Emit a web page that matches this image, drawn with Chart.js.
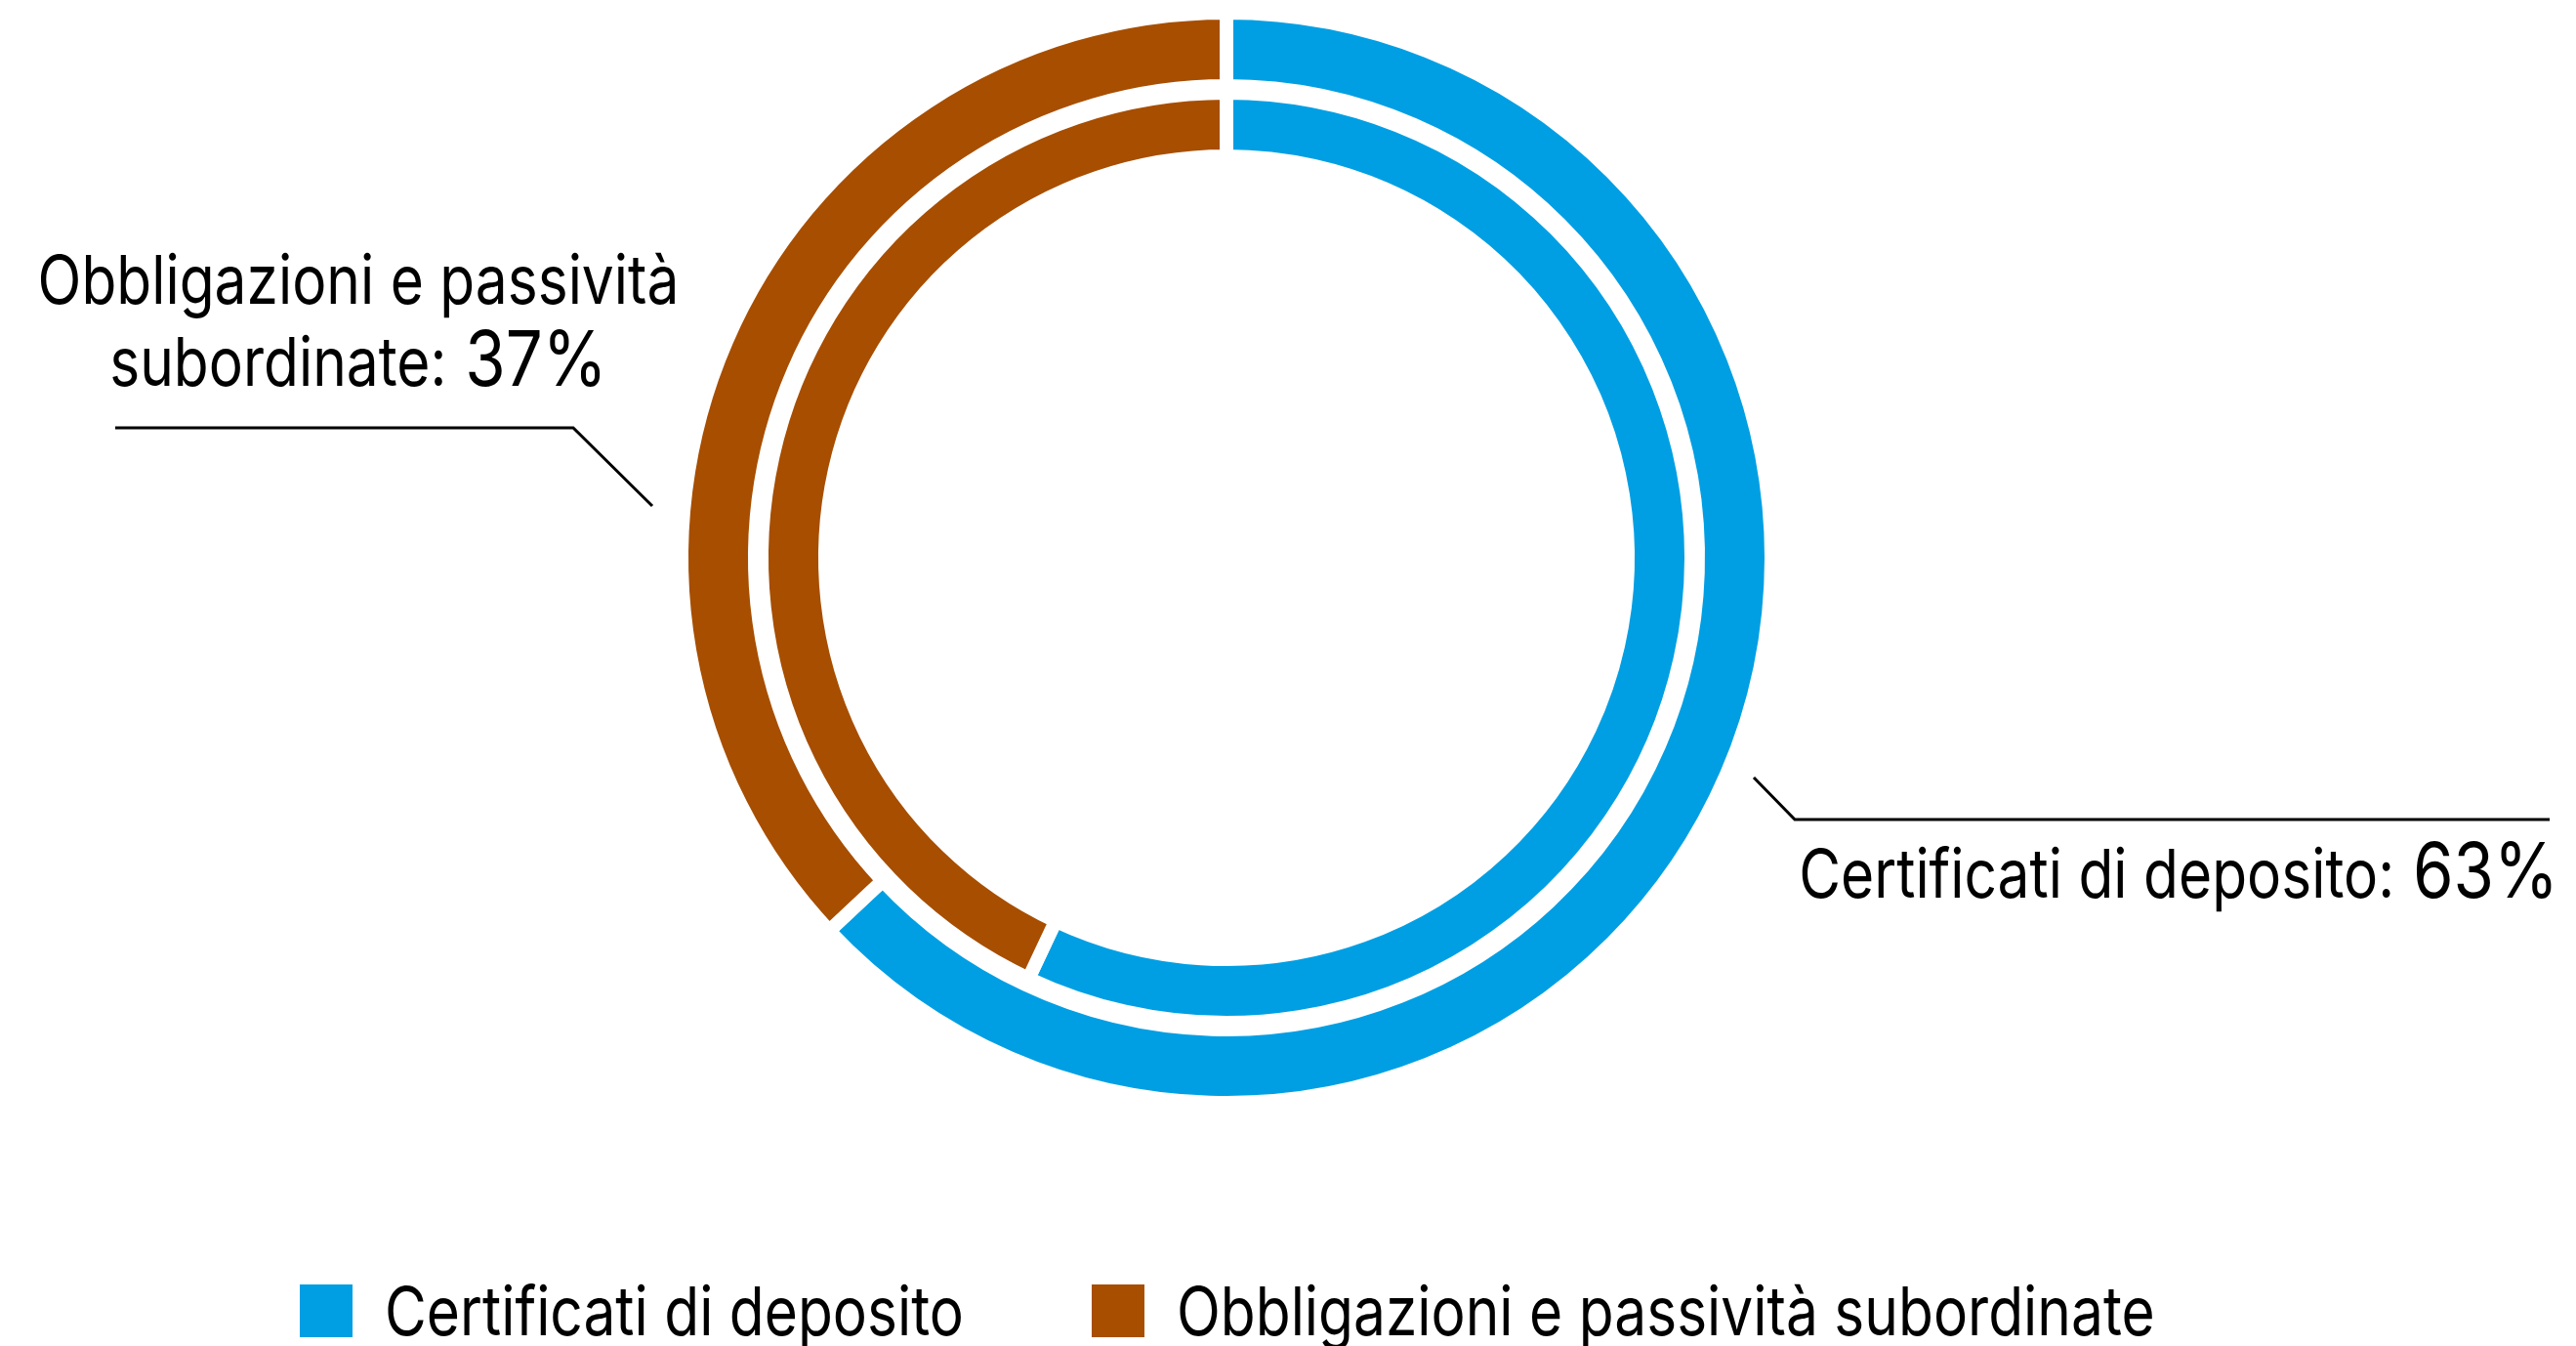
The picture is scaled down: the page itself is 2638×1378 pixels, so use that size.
<!DOCTYPE html>
<html>
<head>
<meta charset="utf-8">
<title>Raccolta</title>
<script src="https://cdn.jsdelivr.net/npm/chart.js@4.4.1/dist/chart.umd.min.js"></script>
<style>
  html, body { margin: 0; padding: 0; background: #fff; }
  canvas { display: block; }
</style>
</head>
<body>
<canvas id="funding" width="2638" height="1378"></canvas>
<script>
const categories = ["Certificati di deposito", "Obbligazioni e passività subordinate"];
const outerShares = [63, 37];
const innerShares = [57, 43];
const colors = ["#009fe3", "#a74e00"];

const FONT = "Inter, 'Noto Sans', sans-serif";
const TEXT_SIZE = 69;
const PCT_SIZE = 79;
const SQUEEZE = 0.85; // narrow the glyphs a bit

// width of a run of text once squeezed
function runWidth(ctx, text, size) {
  ctx.font = size + "px " + FONT;
  return ctx.measureText(text).width * SQUEEZE;
}

function drawRuns(ctx, runs, x, y, align) {
  const total = runs.reduce((s, r) => s + runWidth(ctx, r.text, r.size), 0);
  let cx = align === "right" ? x - total : align === "center" ? x - total / 2 : x;
  ctx.textBaseline = "alphabetic";
  ctx.textAlign = "left";
  ctx.fillStyle = "#000";
  runs.forEach(r => {
    const w = runWidth(ctx, r.text, r.size);
    ctx.save();
    ctx.translate(cx, y);
    ctx.scale(SQUEEZE, 1);
    ctx.font = r.size + "px " + FONT;
    ctx.fillText(r.text, 0, 0);
    ctx.restore();
    cx += w;
  });
  return total;
}

// greedy word wrap for the callout name
function wrap(ctx, text, maxW) {
  const words = text.split(" ");
  const lines = [];
  let cur = "";
  words.forEach(w => {
    const test = cur ? cur + " " + w : w;
    if (cur && runWidth(ctx, test, TEXT_SIZE) > maxW) {
      lines.push(cur);
      cur = w;
    } else {
      cur = test;
    }
  });
  lines.push(cur);
  return lines;
}

// leader lines and text, offsets from the doughnut centre
const calloutLayout = [
  { index: 0, line: [[540, 225], [582, 268], [1355, 268]], x: 1364, y: 348, align: "right", maxW: 2000 },
  { index: 1, line: [[-588, -53], [-669, -133], [-1138, -133]], x: -889, y: -260, align: "center", maxW: 680 }
];
const LINE_H = 84;

const calloutPlugin = {
  id: "callouts",
  afterDraw(chart) {
    const ctx = chart.ctx;
    const arc = chart.getDatasetMeta(0).data[0];
    const cx = arc.x, cy = arc.y;

    ctx.save();
    calloutLayout.forEach(c => {
      ctx.beginPath();
      c.line.forEach((p, i) => {
        if (i === 0) ctx.moveTo(cx + p[0], cy + p[1]);
        else ctx.lineTo(cx + p[0], cy + p[1]);
      });
      ctx.strokeStyle = "#000";
      ctx.lineWidth = 3;
      ctx.lineJoin = "miter";
      ctx.stroke();

      const lines = wrap(ctx, categories[c.index] + ":", c.maxW);
      lines.forEach((ln, i) => {
        const runs = [{ text: ln, size: TEXT_SIZE }];
        if (i === lines.length - 1) runs.push({ text: " " + outerShares[c.index] + "%", size: PCT_SIZE });
        drawRuns(ctx, runs, cx + c.x, cy + c.y + i * LINE_H, c.align);
      });
    });

    // legend row
    const legendY = 1367;
    const box = 54;
    let x = 307;
    categories.forEach((name, i) => {
      ctx.fillStyle = colors[i];
      ctx.fillRect(x, legendY - 52, box, box);
      x += box + 33;
      x += drawRuns(ctx, [{ text: name, size: TEXT_SIZE }], x, legendY, "left");
      x += 131;
    });
    ctx.restore();
  }
};

new Chart(document.getElementById("funding"), {
  type: "doughnut",
  data: {
    labels: categories,
    datasets: [
      {
        data: outerShares,
        backgroundColor: colors,
        borderColor: "#ffffff",
        borderWidth: 14,
        hoverBorderWidth: 14,
        weight: 75
      },
      {
        // blank ring between the two series
        data: [1],
        backgroundColor: "rgba(0,0,0,0)",
        borderWidth: 0,
        hoverBorderWidth: 0,
        weight: 7
      },
      {
        data: innerShares,
        backgroundColor: colors,
        borderColor: "#ffffff",
        borderWidth: 14,
        hoverBorderWidth: 14,
        weight: 65
      }
    ]
  },
  options: {
    responsive: false,
    animation: false,
    cutout: "73.66%",
    layout: { padding: { left: 691, right: 817, top: 6, bottom: 242 } },
    plugins: {
      legend: { display: false },
      tooltip: { enabled: false }
    }
  },
  plugins: [calloutPlugin]
});
</script>
</body>
</html>
